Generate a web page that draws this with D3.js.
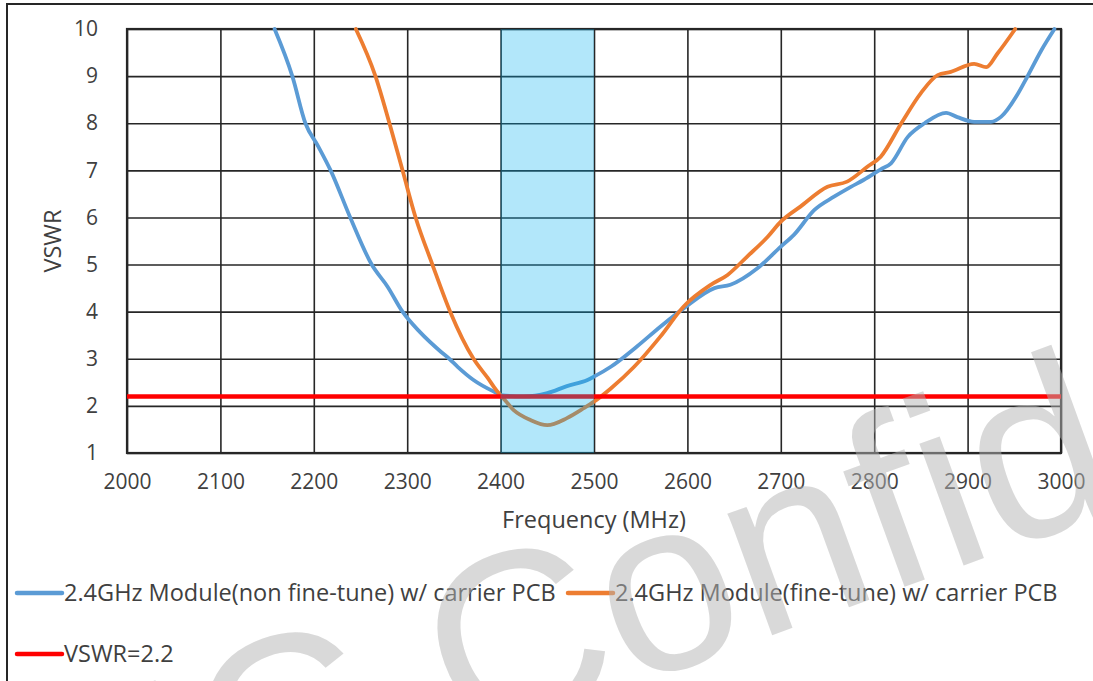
<!DOCTYPE html>
<html>
<head>
<meta charset="utf-8">
<script src="https://cdn.jsdelivr.net/npm/d3@7"></script>
<style>
  body { margin: 0; background: #fff; }
  svg { display: block; font-family: "Open Sans", sans-serif; }
</style>
</head>
<body>
<div id="chart"></div>
<script>
// ---- data ----
const xTicks = [2000, 2100, 2200, 2300, 2400, 2500, 2600, 2700, 2800, 2900, 3000];
const yTicks = [1, 2, 3, 4, 5, 6, 7, 8, 9, 10];

const seriesNames = [
  "2.4GHz Module(non fine-tune) w/ carrier PCB",
  "2.4GHz Module(fine-tune) w/ carrier PCB",
  "VSWR=2.2"
];

// non fine-tune (blue)
const blueFreq = [2158, 2177, 2191, 2205, 2218, 2239, 2262, 2279, 2295, 2314, 2336, 2345, 2354, 2371, 2396,
  2400, 2425, 2450, 2471, 2493, 2500, 2518, 2546, 2571, 2596, 2629, 2646, 2675, 2700, 2714, 2736,
  2757, 2775, 2789, 2807, 2818, 2836, 2854, 2877, 2889, 2907, 2925, 2936, 2954, 2964, 2979, 2993];
const blueVswr = [10.0, 9.0, 8.0, 7.5, 7.0, 6.0, 5.0, 4.53, 4.0, 3.56, 3.15, 3.0, 2.83, 2.55, 2.27,
  2.23, 2.2, 2.27, 2.42, 2.55, 2.62, 2.83, 3.26, 3.68, 4.07, 4.5, 4.57, 4.92, 5.38, 5.63, 6.16,
  6.44, 6.65, 6.8, 7.02, 7.15, 7.71, 8.0, 8.22, 8.13, 8.03, 8.03, 8.14, 8.63, 8.99, 9.55, 10.0];

// fine-tune (orange)
const orangeFreq = [2245, 2266, 2281, 2295, 2309, 2327, 2346, 2371, 2386, 2398, 2400, 2414,
  2432, 2450, 2471, 2489, 2500, 2518, 2543, 2571, 2596, 2625, 2643, 2664, 2686, 2700, 2721, 2750,
  2771, 2793, 2807, 2829, 2850, 2868, 2882, 2907, 2920, 2932, 2951];
const orangeVswr = [10.0, 9.0, 8.0, 7.0, 6.0, 5.0, 4.0, 3.0, 2.6, 2.27, 2.23, 1.91,
  1.7, 1.59, 1.74, 1.95, 2.09, 2.37, 2.83, 3.47, 4.11, 4.57, 4.78, 5.17, 5.59, 5.91, 6.23, 6.65,
  6.76, 7.08, 7.29, 8.0, 8.64, 9.02, 9.09, 9.26, 9.19, 9.48, 10.0];

// limit line
const limitFreq = [2000, 3000];
const limitVswr = [2.2, 2.2];

// 2.4 GHz band highlight
const bandRange = [2400, 2500];

const colors = ["#5b9bd5", "#ed7d31", "#ff0000"];

// ---- layout ----
const width = 1093, height = 681;
const plot = { left: 127, right: 1061, top: 29, bottom: 453 };
const textColor = "#404040";

const svg = d3.select("#chart").append("svg")
  .attr("width", width)
  .attr("height", height);

// outer frame of the pasted chart
svg.append("path")
  .attr("d", `M7,${height + 5}V4H${width + 5}`)
  .attr("fill", "none")
  .attr("stroke", "#262626")
  .attr("stroke-width", 2);

const x = d3.scaleLinear().domain([2000, 3000]).range([plot.left, plot.right]);
const y = d3.scaleLinear().domain([1, 10]).range([plot.bottom, plot.top]);

// grid + axes
const xAxis = svg.append("g")
  .attr("transform", `translate(0,${plot.bottom})`)
  .call(d3.axisBottom(x)
    .tickValues(xTicks)
    .tickFormat(d3.format("d"))
    .tickSize(-(plot.bottom - plot.top))
    .tickPadding(21));

const yAxis = svg.append("g")
  .attr("transform", `translate(${plot.left},0)`)
  .call(d3.axisLeft(y)
    .tickValues(yTicks)
    .tickFormat(d3.format("d"))
    .tickSize(-(plot.right - plot.left))
    .tickPadding(29));

[xAxis, yAxis].forEach(g => {
  g.select(".domain").remove();
  g.selectAll(".tick line").attr("stroke", "#262626").attr("stroke-width", 1.6);
  g.selectAll(".tick text")
    .attr("fill", textColor)
    .style("font-size", "21px")
    .style("font-family", "'Open Sans', sans-serif");
});

// plot frame
svg.append("rect")
  .attr("x", plot.left)
  .attr("y", plot.top)
  .attr("width", plot.right - plot.left)
  .attr("height", plot.bottom - plot.top)
  .attr("fill", "none")
  .attr("stroke", "#262626")
  .attr("stroke-width", 2.2);

// axis titles
svg.append("text")
  .attr("x", (plot.left + plot.right) / 2)
  .attr("y", 528)
  .attr("text-anchor", "middle")
  .attr("fill", textColor)
  .style("font-size", "23.5px")
  .text("Frequency (MHz)");

svg.append("text")
  .attr("transform", `translate(61,${(plot.top + plot.bottom) / 2}) rotate(-90)`)
  .attr("text-anchor", "middle")
  .attr("fill", textColor)
  .style("font-size", "23.5px")
  .text("VSWR");

// clip lines to the plot
svg.append("clipPath").attr("id", "clip")
  .append("rect")
  .attr("x", plot.left).attr("y", plot.top - 2)
  .attr("width", plot.right - plot.left)
  .attr("height", plot.bottom - plot.top + 2);

const line = d3.line()
  .x(d => x(d[0]))
  .y(d => y(d[1]))
  .curve(d3.curveMonotoneX);

const series = [
  d3.zip(blueFreq, blueVswr),
  d3.zip(orangeFreq, orangeVswr),
  d3.zip(limitFreq, limitVswr)
];

svg.append("g")
  .attr("clip-path", "url(#clip)")
  .selectAll("path.trend")
  .data(series)
  .join("path")
  .attr("class", "trend")
  .attr("fill", "none")
  .attr("stroke", (d, i) => colors[i])
  .attr("stroke-width", (d, i) => i === 2 ? 4.5 : 3.8)
  .attr("stroke-linejoin", "round")
  .attr("stroke-linecap", "round")
  .attr("d", line);

// translucent band over everything in the plot
svg.append("rect")
  .attr("x", x(bandRange[0]))
  .attr("y", plot.top)
  .attr("width", x(bandRange[1]) - x(bandRange[0]))
  .attr("height", plot.bottom - plot.top)
  .attr("fill", "rgb(0,176,240)")
  .attr("fill-opacity", 0.3);

// legend
const legendItems = [
  { name: seriesNames[0], color: colors[0], x: 17, y: 593 },
  { name: seriesNames[1], color: colors[1], x: 568, y: 593 },
  { name: seriesNames[2], color: colors[2], x: 17, y: 654 }
];

const legend = svg.append("g")
  .selectAll("g")
  .data(legendItems)
  .join("g")
  .attr("transform", d => `translate(${d.x},${d.y})`);

legend.append("line")
  .attr("x1", 0).attr("x2", 45)
  .attr("stroke", d => d.color)
  .attr("stroke-width", 4.5)
  .attr("stroke-linecap", "round");

legend.append("text")
  .attr("x", 47)
  .attr("dy", "0.36em")
  .attr("fill", textColor)
  .style("font-size", "23.5px")
  .text(d => d.name);

// watermark, drawn on top, anchored at the "C" of "Confidential"
const mark = svg.append("g")
  .attr("transform", "translate(462,748) rotate(-20)")
  .attr("fill", "#b4b4b4")
  .attr("fill-opacity", 0.5)
  .style("font-family", "'Liberation Sans', Arial, sans-serif")
  .style("font-size", "245px");

mark.append("text")
  .attr("text-anchor", "end")
  .text("WNC\u00a0");

mark.append("text")
  .text("Confidential");
</script>
</body>
</html>
